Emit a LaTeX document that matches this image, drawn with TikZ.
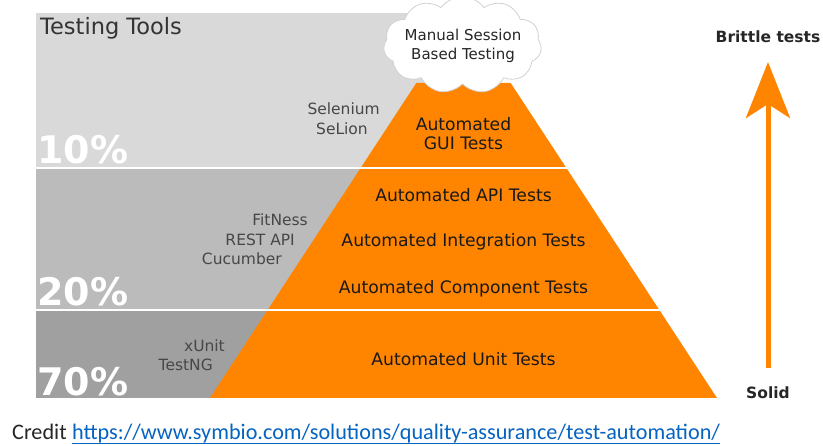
\documentclass[tikz,border=0pt]{standalone}
\usepackage{fontspec}
\setmainfont{DejaVu Sans}
\newfontfamily\carlito{Carlito}
\usetikzlibrary{shapes.symbols,arrows.meta}
\definecolor{orng}{RGB}{255,133,0}
\definecolor{gA}{RGB}{217,217,217}
\definecolor{gB}{RGB}{187,187,187}
\definecolor{gC}{RGB}{160,160,160}
\definecolor{linkblue}{RGB}{5,99,193}
\tikzset{
  pct/.style={anchor=base west, inner sep=0, text=white, font=\bfseries\fontsize{38}{38}\selectfont},
  ptxt/.style={anchor=base, inner sep=0, text=black!90, font=\fontsize{17.2}{20}\selectfont},
  tool/.style={anchor=base east, inner sep=0, text=black!72, font=\fontsize{15.5}{18}\selectfont},
  side/.style={anchor=base, inner sep=0, text=black!85, font=\bfseries\fontsize{15.5}{18}\selectfont},
  sep/.style={white, line width=2pt},
  credfont/.style={anchor=base west, inner sep=0, font=\carlito\fontsize{22.2}{26}\selectfont}
}
\begin{document}
\begin{tikzpicture}[x=1pt,y=-1pt]
\useasboundingbox (0,0) rectangle (823,446);
% grey bands
\fill[gA] (36,13) rectangle (440,167.5);
\fill[gB] (36,169.5) rectangle (420,309);
\fill[gC] (36,311) rectangle (330,398);
% percentages
\begin{scope}
  \clip (36,13) rectangle (440,167.5);
  \node[pct] (p10) at (37,164) {10\%};
\end{scope}
\begin{scope}
  \clip (36,169.5) rectangle (420,309);
  \node[pct] (p20) at (37,306) {20\%};
\end{scope}
\begin{scope}
  \clip (36,311) rectangle (330,398);
  \node[pct] (p70) at (37,396) {70\%};
\end{scope}
% pyramid
\fill[orng] (416.3,83) -- (510.7,83) -- (717,398) -- (210,398) -- cycle;
\draw[sep] (36,168.5) -- (567.5,168.5);
\draw[sep] (36,310) -- (660.5,310);
% cloud
\node[cloud, cloud puffs=11, cloud puff arc=110, cloud ignores aspect, draw=black!18, line width=0.8pt,
      fill=white, minimum width=158, minimum height=97, inner sep=0] (cloud) at (462.5,45) {};
\node[align=center, inner sep=0, text=black!85, font=\fontsize{15}{19}\selectfont] (cloudtxt) at (463,46) {Manual Session\\Based Testing};
% title
\node[anchor=base west, inner sep=0, text=black!80, font=\fontsize{22.5}{26}\selectfont] (title) at (40,35) {Testing Tools};
% pyramid texts
\node[ptxt] (gui1) at (463.5,131) {Automated};
\node[ptxt] (gui2) at (463.5,150) {GUI Tests};
\node[ptxt] (api) at (463.5,202) {Automated API Tests};
\node[ptxt] (integ) at (463.5,247) {Automated Integration Tests};
\node[ptxt] (comp) at (463.5,294) {Automated Component Tests};
\node[ptxt] (unit) at (463.5,366) {Automated Unit Tests};
% tools
\node[tool] (sel) at (380,115) {Selenium};
\node[tool] (selion) at (368,135) {SeLion};
\node[tool] (fit) at (308,226) {FitNess};
\node[tool] (rest) at (295,246) {REST API};
\node[tool] (cuc) at (282,265) {Cucumber};
\node[tool] (xunit) at (225,352) {xUnit};
\node[tool] (testng) at (213,371) {TestNG};
% arrow
\node[side] (brittle) at (768,43) {Brittle tests};
\node[side] (solid) at (768,399) {Solid};
\coordinate (abot) at (768,368);
\coordinate (atop) at (768,62);
\draw[orng, line width=5pt, -{Stealth[length=56pt,width=44pt,inset=14pt]}] (abot) -- (atop);
% credit
\node[credfont, text=black!85] (credit) at (12,440) {Credit};
\node[credfont, text=linkblue] (url) at ([xshift=5pt]credit.base east) {https://www.symbio.com/solutions/quality-assurance/test-automation/};
\draw[linkblue, line width=1.1pt] ([yshift=-3.2pt]url.base west) -- ([yshift=-3.2pt]url.base east);
\end{tikzpicture}
\end{document}
